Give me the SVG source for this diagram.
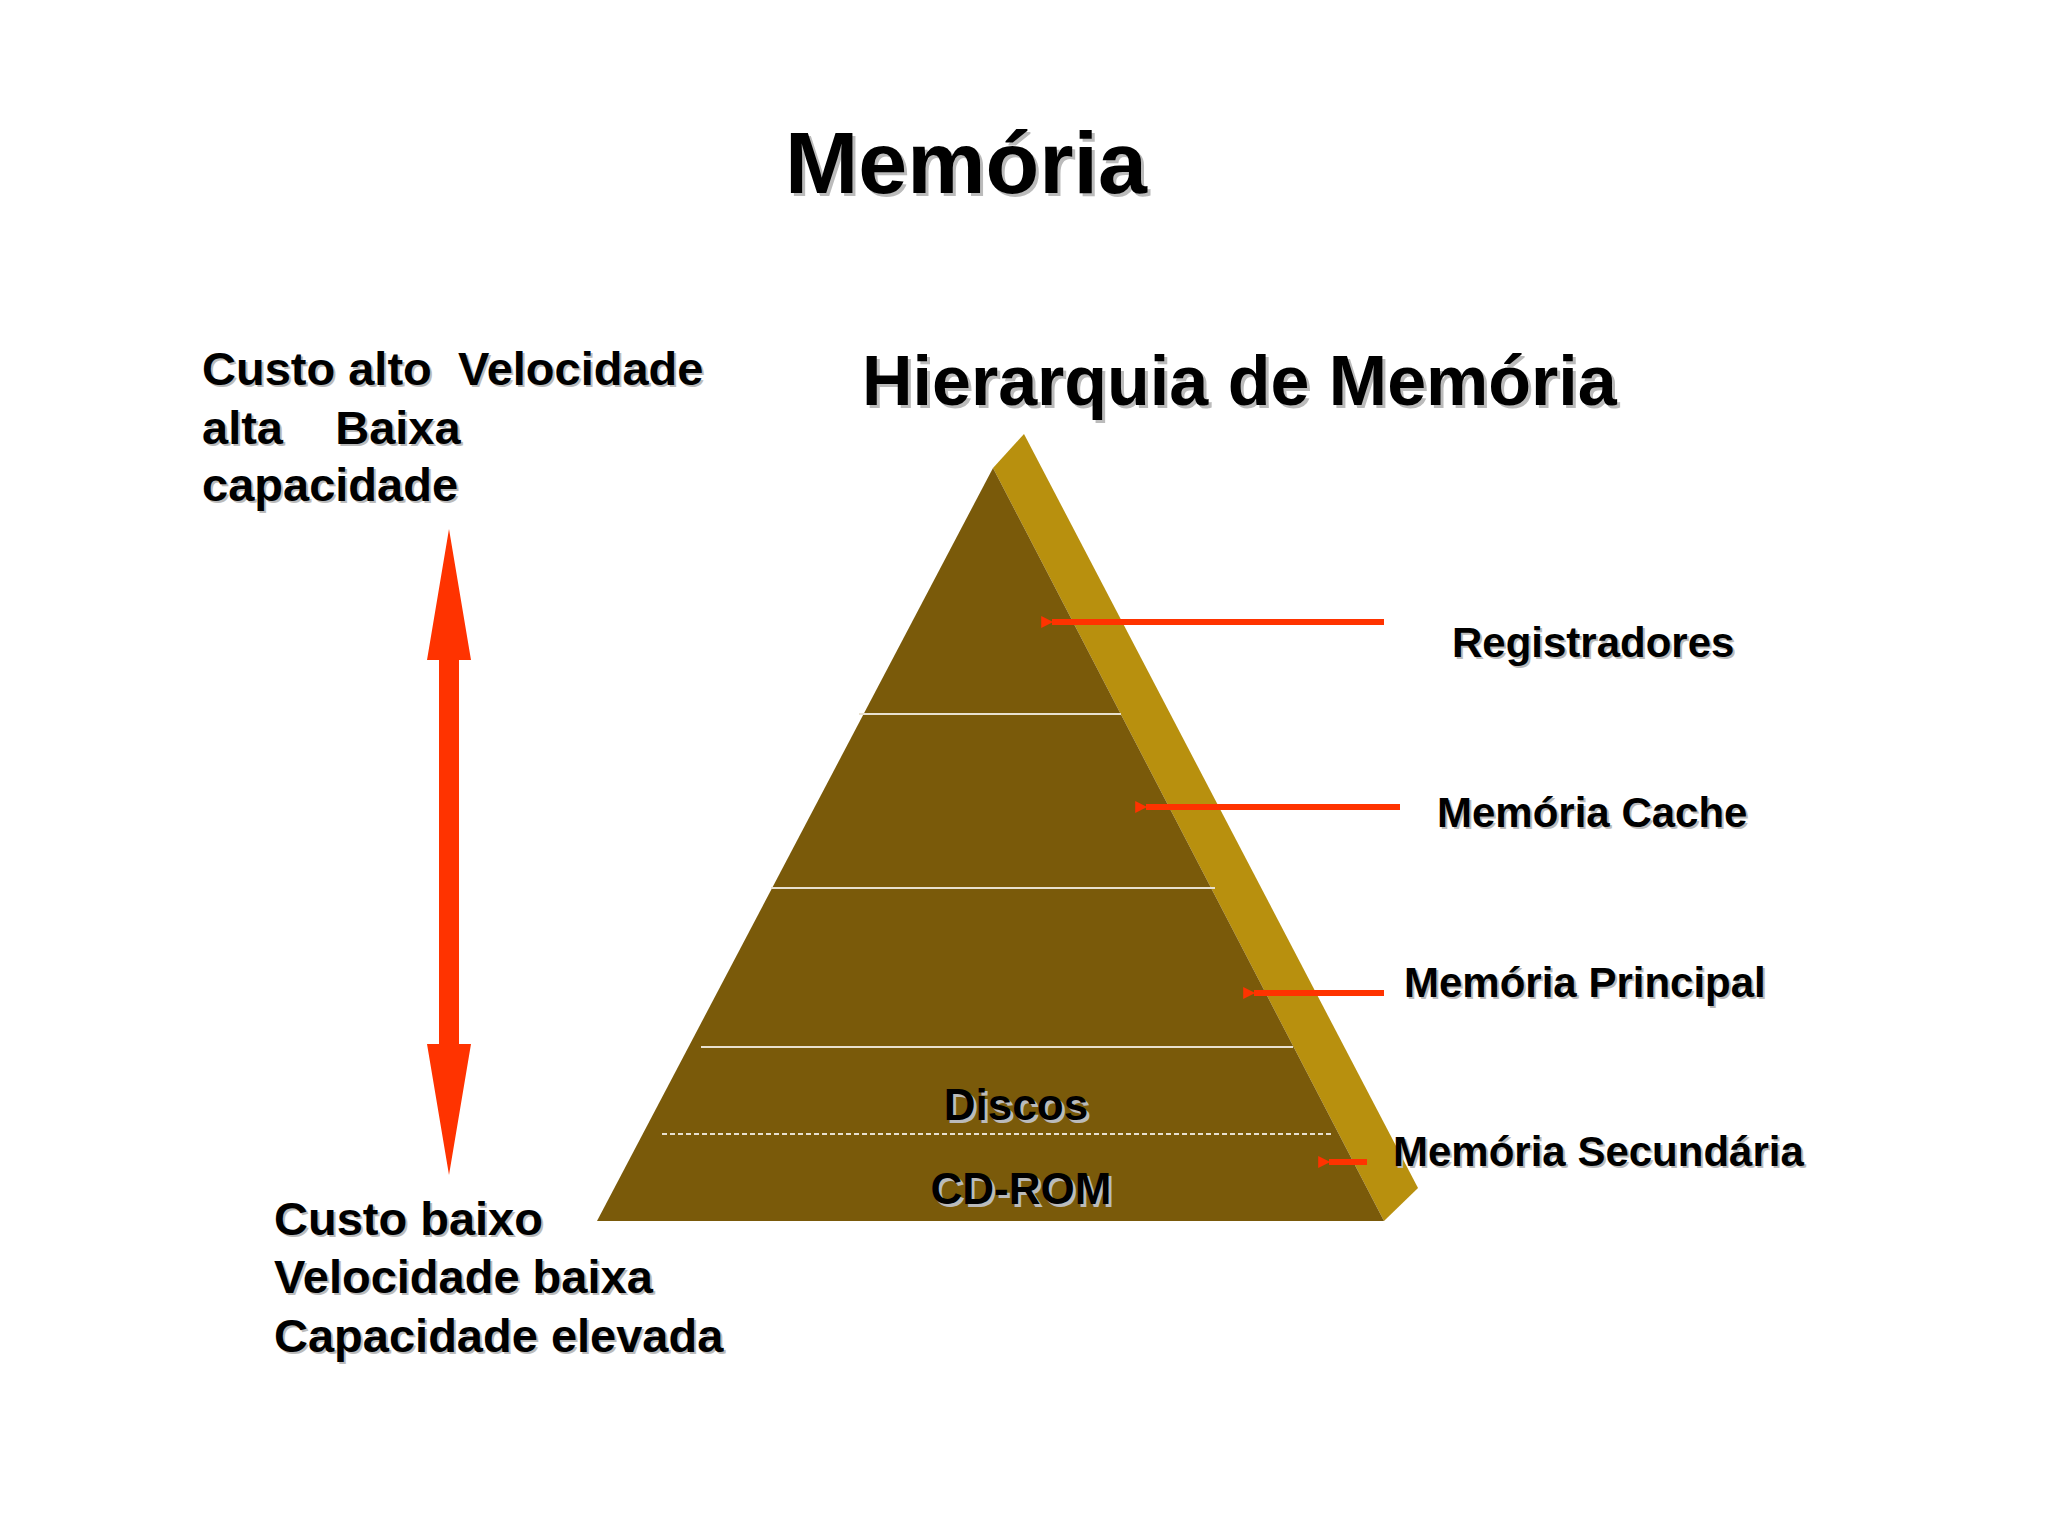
<svg xmlns="http://www.w3.org/2000/svg" width="2048" height="1535" viewBox="0 0 2048 1535">
<style>
text{font-family:"Liberation Sans",Arial,sans-serif;font-weight:bold;fill:#000}
.sh{fill:#bbb}
.a{stroke:#ff3300;stroke-width:6}
.sep{stroke:#e8e0d0;stroke-width:2}
</style>
<defs>
<marker id="ah" viewBox="0 0 10 10" refX="1" refY="5" markerWidth="3" markerHeight="2" orient="auto-start-reverse" markerUnits="strokeWidth"><path d="M10,0L0,5L10,10z" fill="#ff3300"/></marker>
</defs>
<rect width="2048" height="1535" fill="#fff"/>
<g id="title"><text class="sh" x="969" y="196" font-size="88" text-anchor="middle">Memória</text><text x="966" y="193" font-size="88" text-anchor="middle">Memória</text></g>
<g id="subtitle"><text class="sh" x="865" y="408" font-size="70">Hierarquia de Memória</text><text x="862" y="405" font-size="70">Hierarquia de Memória</text></g>
<g id="pyramid">
<polygon points="993,468 1024,434 1418,1188 1384,1221" fill="#b8900e"/>
<polygon points="993,468 597,1221 1384,1221" fill="#7a5a0a"/>
<line class="sep" x1="859" y1="714" x2="1121" y2="714"/>
<line class="sep" x1="771" y1="888" x2="1215" y2="888"/>
<line class="sep" x1="701" y1="1047" x2="1293" y2="1047"/>
<line class="sep" x1="662" y1="1134" x2="1332" y2="1134" stroke-dasharray="5,3"/>
<text class="sh" x="1019" y="1123" font-size="44" text-anchor="middle">Discos</text><text x="1016" y="1120" font-size="44" text-anchor="middle">Discos</text>
<text class="sh" x="1024" y="1207" font-size="44" text-anchor="middle">CD-ROM</text><text x="1021" y="1204" font-size="44" text-anchor="middle">CD-ROM</text>
</g>
<g id="connectors">
<line class="a" x1="1384" y1="622" x2="1052" y2="622" marker-end="url(#ah)"/>
<line class="a" x1="1400" y1="807" x2="1146" y2="807" marker-end="url(#ah)"/>
<line class="a" x1="1384" y1="993" x2="1254" y2="993" marker-end="url(#ah)"/>
<line class="a" x1="1367" y1="1162" x2="1329" y2="1162" marker-end="url(#ah)"/>
<polygon points="449,529 471,660 459,660 459,1044 471,1044 449,1175 427,1044 439,1044 439,660 427,660" fill="#ff3300"/>
</g>
<g id="labels">
<text class="sh" x="1454" y="659" font-size="42">Registradores</text><text x="1452" y="657" font-size="42">Registradores</text>
<text class="sh" x="1439" y="829" font-size="42">Memória Cache</text><text x="1437" y="827" font-size="42">Memória Cache</text>
<text class="sh" x="1406" y="999" font-size="42">Memória Principal</text><text x="1404" y="997" font-size="42">Memória Principal</text>
<text class="sh" x="1395" y="1168" font-size="42">Memória Secundária</text><text x="1393" y="1166" font-size="42">Memória Secundária</text>
</g>
<g id="top-text">
<text class="sh" x="204" y="387" font-size="47" xml:space="preserve">Custo alto  Velocidade</text><text x="202" y="385" font-size="47" xml:space="preserve">Custo alto  Velocidade</text>
<text class="sh" x="204" y="446" font-size="47" xml:space="preserve">alta    Baixa</text><text x="202" y="444" font-size="47" xml:space="preserve">alta    Baixa</text>
<text class="sh" x="204" y="503" font-size="47">capacidade</text><text x="202" y="501" font-size="47">capacidade</text>
</g>
<g id="bottom-text">
<text class="sh" x="276" y="1237" font-size="47">Custo baixo</text><text x="274" y="1235" font-size="47">Custo baixo</text>
<text class="sh" x="276" y="1295" font-size="47">Velocidade baixa</text><text x="274" y="1293" font-size="47">Velocidade baixa</text>
<text class="sh" x="276" y="1354" font-size="47">Capacidade elevada</text><text x="274" y="1352" font-size="47">Capacidade elevada</text>
</g>
</svg>
